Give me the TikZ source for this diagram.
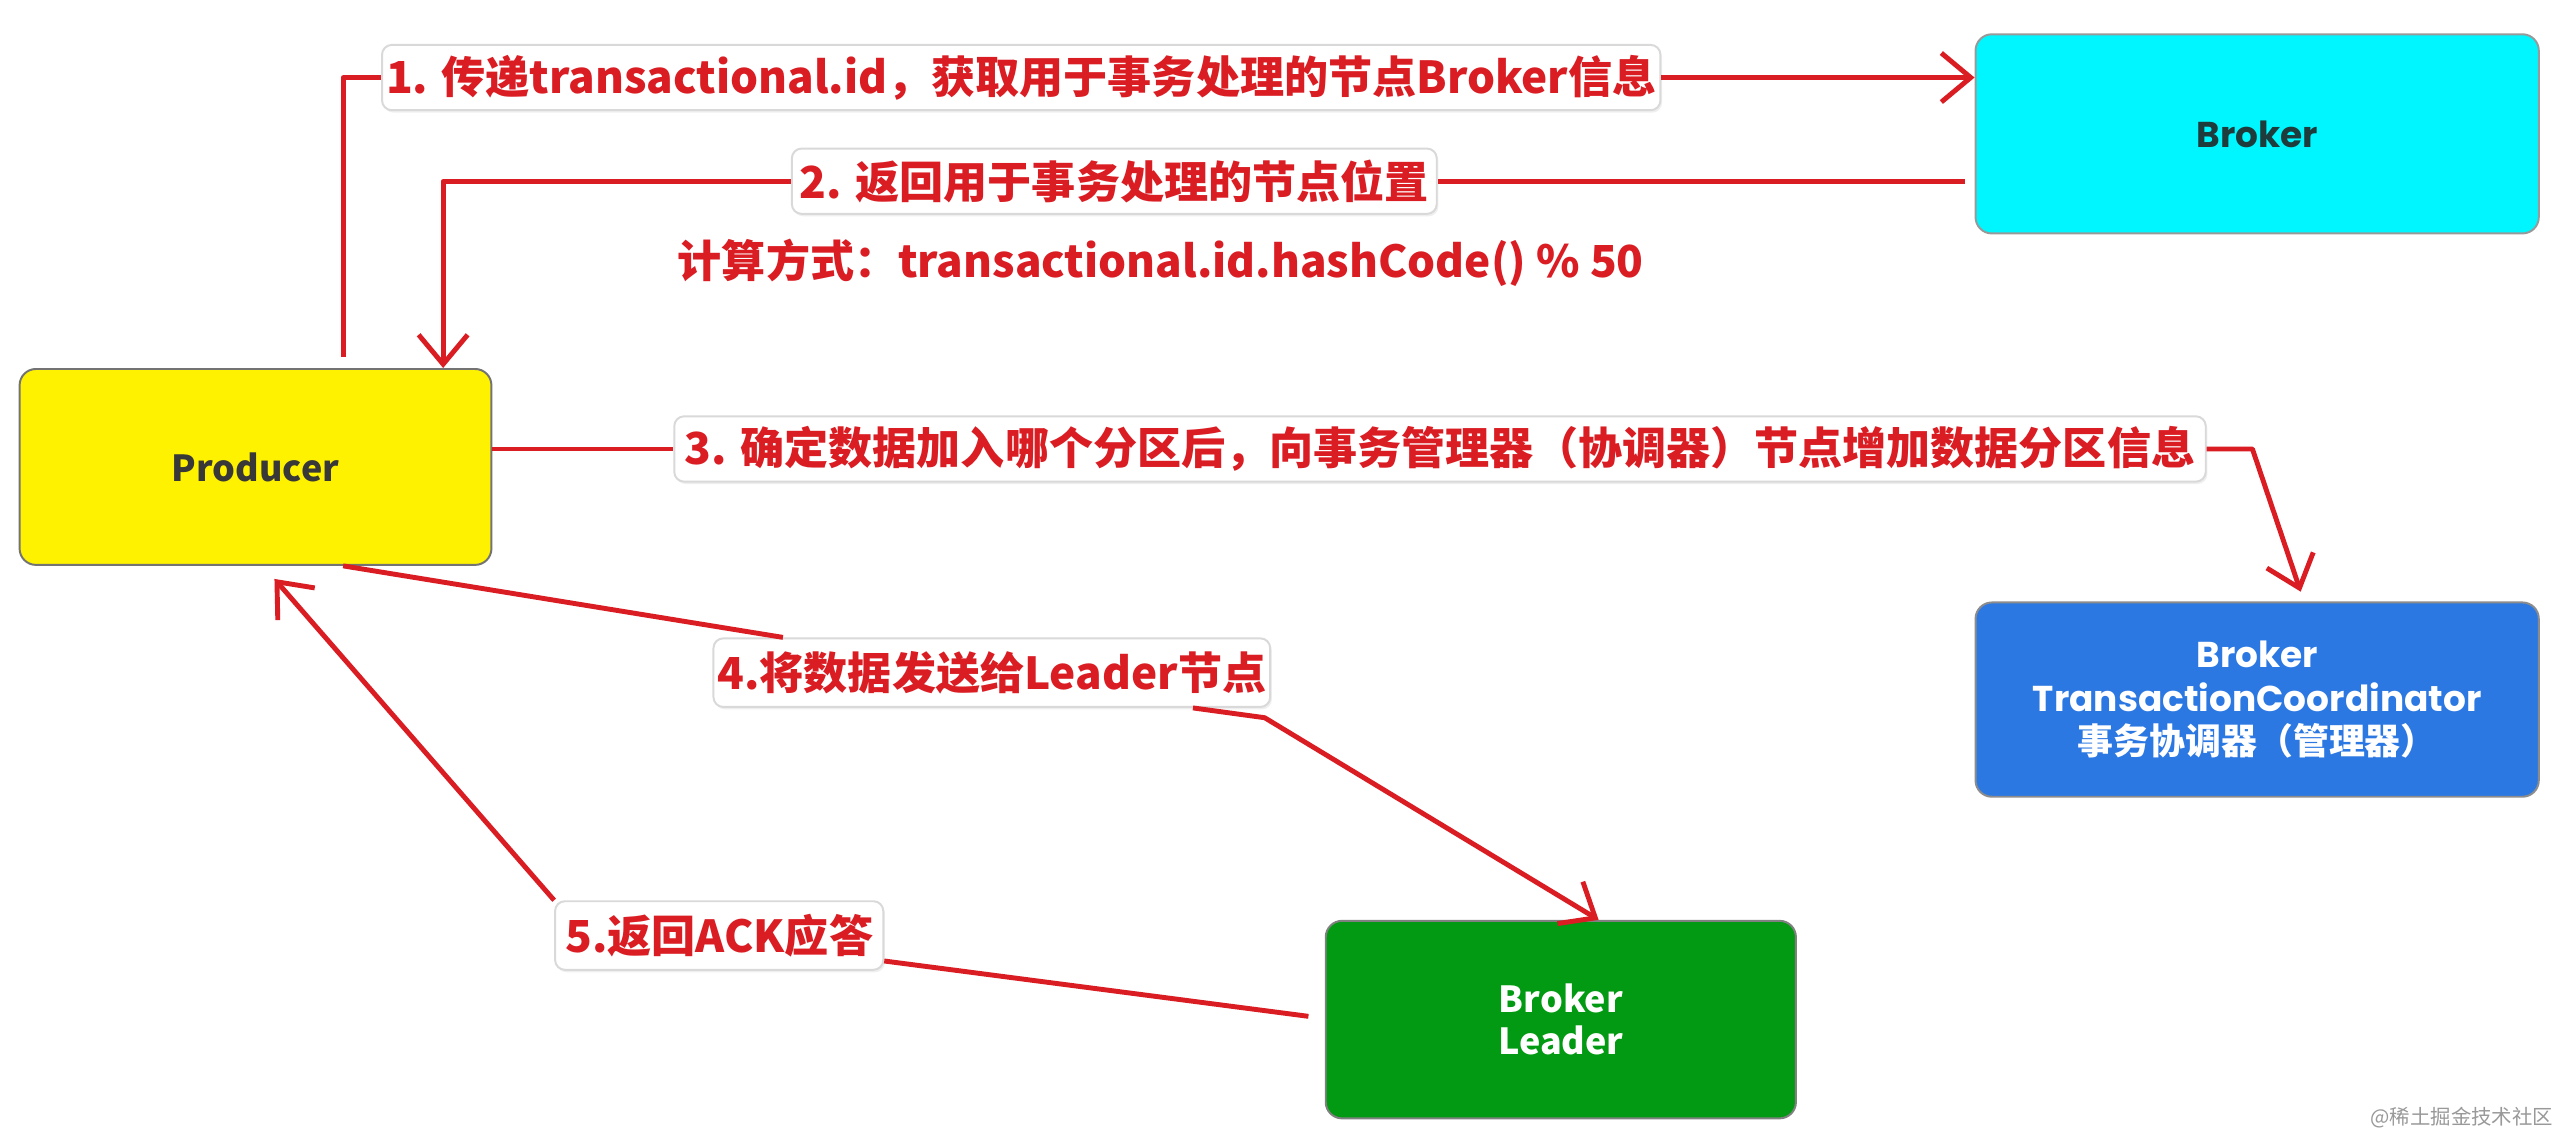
\documentclass[tikz,border=0pt]{standalone}
\usepackage{fontspec}
\setmainfont{Noto Sans CJK SC}
\newfontfamily\popfont{Poppins}
\usetikzlibrary{arrows.meta,calc,shadows}
\definecolor{lred}{RGB}{218,28,35}
\definecolor{cyanfill}{RGB}{0,246,255}
\definecolor{tcfill}{RGB}{44,120,226}
\definecolor{ldrfill}{RGB}{2,154,18}
\begin{document}
\begin{tikzpicture}[x=1pt,y=-1pt,
  box/.style={rounded corners=10pt, draw=#1, line width=1.2pt, inner sep=0pt, align=center},
  lab/.style={rounded corners=6pt, draw=black!15, fill=white, line width=1.2pt, text=lred,
    font=\fontsize{27}{32}\selectfont\bfseries, inner sep=0pt, minimum height=40pt,
    drop shadow={opacity=0.12, shadow xshift=1pt, shadow yshift=-1.5pt}},
  conn/.style={draw=lred, line width=3pt, line join=round},
  tip/.style={-{Straight Barb[length=18pt,width=30pt]}}]
\fill[white] (0,0) rectangle (1568,695.2);
\useasboundingbox (0,0) rectangle (1568,695.2);

% main nodes
\node[box=black!55, fill=yellow, minimum width=289pt, minimum height=120pt, text=black!78,
  font=\fontsize{22}{26}\selectfont\bfseries] (prod) at (156.5,286) {Producer};
\node[box=black!40, fill=cyanfill, minimum width=345pt, minimum height=122pt, text={rgb,255:red,30;green,60;blue,60},
  font=\popfont\fontsize{22}{26}\selectfont\bfseries] (brk) at (1382.5,82) {Broker};
\node[box=black!45, fill=tcfill, minimum width=345pt, minimum height=119pt, text=white,
  font=\popfont\fontsize{22}{26.5}\selectfont\bfseries] (tc) at (1382.5,428.5)
  {Broker\\TransactionCoordinator\\{\rmfamily\bfseries 事务协调器（管理器）}};
\node[box=black!50, fill=ldrfill, minimum width=288pt, minimum height=121pt, text=white,
  font=\fontsize{22}{25.5}\selectfont\bfseries] (ldr) at (956,624.5) {Broker\\Leader};

% labels
\node[lab, minimum width=783pt] (l1) at (625.5,47.5) {1. 传递transactional.id，获取用于事务处理的节点Broker信息};
\node[lab, minimum width=395pt] (l2) at (682.5,111) {2. 返回用于事务处理的节点位置};
\node[text=lred, font=\fontsize{27}{32}\selectfont\bfseries, inner sep=0pt] (calc) at (711,161)
  {计算方式：transactional.id.hashCode() \% 50};
\node[lab, minimum width=938pt] (l3) at (882,275) {3. 确定数据加入哪个分区后，向事务管理器（协调器）节点增加数据分区信息};
\node[lab, minimum width=341pt, minimum height=42pt] (l4) at (607.5,412) {4.将数据发送给Leader节点};
\node[lab, minimum width=201pt, minimum height=42pt] (l5) at (440.5,573) {5.返回ACK应答};

% connectors
\coordinate (c1a) at ($(prod.north west)!0.685!(prod.north east)+(0,-7)$);
\draw[conn] (c1a) |- (l1.west);
\draw[conn,tip] (l1.east) -- (brk.west |- l1.east);

\coordinate (c2a) at ($(brk.west |- l2.east)+(-6,0)$);
\draw[conn] (c2a) -- (l2.east);
\draw[conn,tip] (l2.west) -| ($(prod.north west)!0.896!(prod.north east)$);

\draw[conn] (prod.east |- l3.west) -- (l3.west);
\coordinate (c3a) at ($(l3.east)+(28,0)$);
\draw[conn,tip] (l3.east) -- (c3a) -- ($(tc.north west)!0.577!(tc.north east)+(0,-6)$);

\coordinate (c4a) at ($(l4.south east)+(-4,6)$);
\draw[conn] ($(prod.south west)!0.685!(prod.south east)$) -- ($(l4.north west)!0.126!(l4.north east)$);
\draw[conn,tip] ($(l4.south west)!0.86!(l4.south east)$) -- (c4a) -- ($(ldr.north west)!0.58!(ldr.north east)$);

\coordinate (c5a) at ($(ldr.west)+(-10,-2)$);
\draw[conn] (c5a) -- ($(l5.south east)+(0,-6)$);
\draw[conn,tip] (l5.north west) -- ($(prod.south west)!0.54!(prod.south east)+(0,8)$);

% watermark
\node[text=black!40, font=\fontsize{12.5}{14}\selectfont, anchor=east, inner sep=0pt] (wm) at (1564,684.5) {@稀土掘金技术社区};
\end{tikzpicture}
\end{document}
